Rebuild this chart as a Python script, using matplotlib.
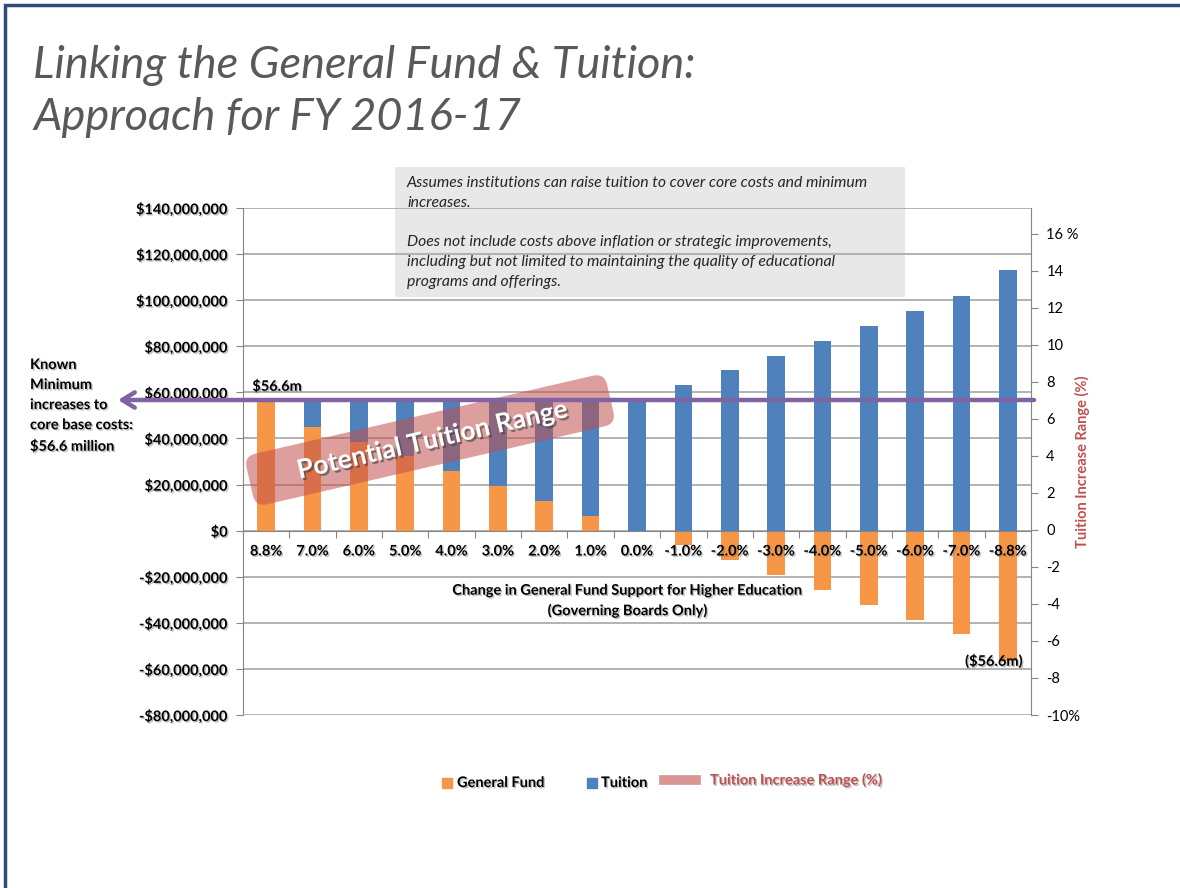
import matplotlib
matplotlib.use('Agg')
import matplotlib.pyplot as plt
import matplotlib.patheffects as pe
from matplotlib.patches import FancyBboxPatch, Rectangle
from matplotlib.lines import Line2D
from matplotlib.transforms import Affine2D
import numpy as np

plt.rcParams['font.family'] = ['Lato', 'DejaVu Sans']

# data (millions of dollars)
categories = ['8.8%', '7.0%', '6.0%', '5.0%', '4.0%', '3.0%', '2.0%', '1.0%', '0.0%',
              '-1.0%', '-2.0%', '-3.0%', '-4.0%', '-5.0%', '-6.0%', '-7.0%', '-8.8%']
general_fund = [56.6, 45.0, 38.6, 32.2, 25.7, 19.3, 12.9, 6.4, 0.0,
                -6.4, -12.9, -19.3, -25.7, -32.2, -38.6, -45.0, -56.6]
tuition = [0.0, 11.6, 18.0, 24.4, 30.9, 37.3, 43.7, 50.2, 56.6,
           63.0, 69.5, 75.9, 82.3, 88.8, 95.2, 101.6, 113.2]
minimum_increase = 56.6
left_ticks = [140, 120, 100, 80, 60, 40, 20, 0, -20, -40, -60, -80]
right_ticks = [16, 14, 12, 10, 8, 6, 4, 2, 0, -2, -4, -6, -8, -10]

ORANGE = '#F79646'
BLUE = '#4F81BD'
PURPLE = '#8064A2'
RED = '#C0504D'
GRID = '#A6A6A6'

W, H = 1180, 888


def fx(x):
    return x / W


def fy(y):
    return 1 - y / H


shadow = [pe.SimplePatchShadow(offset=(1, -1), shadow_rgbFace='#7f7f7f', alpha=0.5), pe.Normal()]

fig = plt.figure(figsize=(11.8, 8.88), dpi=100)

# slide frame (only left and top edges show)
fig.add_artist(Rectangle((fx(5), -0.1), 1.2, fy(5) + 0.1, transform=fig.transFigure,
                         fill=False, edgecolor='#2F4B7C', linewidth=2.5, zorder=-2))

# title
fig.text(fx(33), fy(78), 'Linking the General Fund & Tuition:', fontsize=32.5, style='italic',
         color='#595959', ha='left', va='baseline')
fig.text(fx(33), fy(130), 'Approach for FY 2016-17', fontsize=32.5, style='italic',
         color='#595959', ha='left', va='baseline')

# gray note box (behind gridlines)
fig.add_artist(Rectangle((fx(395), fy(297)), fx(905) - fx(395), fy(167) - fy(297),
                         transform=fig.transFigure, facecolor='#E8E8E8', edgecolor='none', zorder=-1))
note = ('Assumes institutions can raise tuition to cover core costs and minimum\n'
        'increases.\n\n'
        'Does not include costs above inflation or strategic improvements,\n'
        'including but not limited to maintaining the quality of educational\n'
        'programs and offerings.')
fig.text(fx(407), fy(176), note, fontsize=11.3, style='italic', color='#262626',
         ha='left', va='top', linespacing=1.52)

ax = fig.add_axes([fx(243), fy(715), fx(1031) - fx(243), fy(208) - fy(715)])
ax.set_facecolor('none')
x = np.arange(len(categories))
gf = np.array(general_fund)
tu = np.array(tuition)
ax.bar(x, gf, width=0.38, color=ORANGE, zorder=2)
ax.bar(x, tu, width=0.38, bottom=np.clip(gf, 0, None), color=BLUE, zorder=2)

ax.set_xlim(-0.5, len(categories) - 0.5)
ax.set_ylim(-80, 140)
ax.set_yticks(left_ticks)
ax.set_yticklabels([('$' if v >= 0 else '-$') + f'{abs(v) * 1000000:,.0f}' for v in left_ticks],
                   fontweight='bold', fontsize=10.5)
for t in ax.get_yticklabels():
    t.set_path_effects(shadow)
ax.yaxis.grid(True, color=GRID, linewidth=1.2, zorder=0)
ax.set_axisbelow(True)
ax.spines['top'].set_visible(False)
ax.spines['right'].set_visible(False)
ax.spines['left'].set_color('#868686')
ax.spines['bottom'].set_position(('data', 0))
ax.spines['bottom'].set_color('#868686')
ax.set_xticks(x[:-1] + 0.5)
ax.set_xticklabels([])
ax.tick_params(axis='x', length=5, color='#868686')
ax.tick_params(axis='y', length=5, color='#868686', pad=6)

for i, c in enumerate(categories):
    ax.annotate(c, (i, 0), xytext=(0, -15), textcoords='offset points', ha='center',
                va='center', fontsize=10.5, fontweight='bold', path_effects=shadow)

ax.text(7.8, -30.5, 'Change in General Fund Support for Higher Education\n(Governing Boards Only)',
        ha='center', va='center', fontsize=10.5, fontweight='bold', linespacing=1.45,
        path_effects=shadow)

ax.annotate('$56.6m', (0, minimum_increase), xytext=(-10, 10), textcoords='offset points',
            ha='left', va='center', fontsize=10.5, fontweight='bold', path_effects=shadow)
ax.annotate('($56.6m)', (16, general_fund[-1]), xytext=(-10, 0), textcoords='offset points',
            ha='center', va='center', fontsize=10.5, fontweight='bold', path_effects=shadow)

# secondary axis
ax2 = ax.twinx()
ax2.set_ylim(-10, 17.4)
ax2.set_yticks(right_ticks)
ax2.set_yticklabels(['16 %' if v == 16 else ('-10%' if v == -10 else str(v)) for v in right_ticks],
                    fontsize=10.5)
ax2.tick_params(axis='y', length=5, color='#868686', pad=6)
for s in ['top', 'left', 'bottom']:
    ax2.spines[s].set_visible(False)
ax2.spines['right'].set_color('#868686')
ax2.set_ylabel('Tuition Increase Range (%)', color=RED, fontweight='bold', fontsize=10.5,
               labelpad=-4)

# pink "Potential Tuition Range" band
cx, cy = 430, 440
bw, bh = 370, 52
tr = (Affine2D().rotate_deg_around(cx, H - cy, 13) +
      Affine2D().scale(1 / W, 1 / H) + fig.transFigure)
band = FancyBboxPatch((cx - bw / 2, H - cy - bh / 2), bw, bh,
                      boxstyle='round,pad=0,rounding_size=12', transform=tr,
                      facecolor=RED, edgecolor='none', alpha=0.55, zorder=5)
ax2.add_patch(band)
band.set_transform(tr)
band.set_clip_on(False)
ax2.text(fx(cx + 2), fy(cy), 'Potential Tuition Range', transform=fig.transFigure, rotation=13,
         rotation_mode='anchor', ha='center', va='center', color='white', fontsize=19,
         fontweight='bold', zorder=6,
         path_effects=[pe.SimplePatchShadow(offset=(1.5, -1.5), shadow_rgbFace='#404040', alpha=0.6),
                       pe.Normal()])

# purple arrow for the known minimum increase
ax2.annotate('', xy=(fx(118), fy(400)), xycoords=fig.transFigure,
             xytext=(fx(1034), fy(400)), textcoords=fig.transFigure,
             arrowprops=dict(arrowstyle='->,head_length=0.9,head_width=0.55', lw=3.2,
                             color=PURPLE, shrinkA=0, shrinkB=0),
             zorder=7, annotation_clip=False)

fig.text(fx(30), fy(358), 'Known\nMinimum\nincreases to\ncore base costs:\n$56.6 million',
         ha='left', va='top', fontsize=10.5, fontweight='bold', linespacing=1.55,
         path_effects=shadow)

# legend (manually placed entries)
fig.add_artist(Line2D([fx(447)], [fy(783)], marker='s', linestyle='none', markersize=7.5,
                      color=ORANGE, transform=fig.transFigure))
fig.text(fx(457), fy(783), 'General Fund', ha='left', va='center', fontsize=10.5,
         fontweight='bold', path_effects=shadow)
fig.add_artist(Line2D([fx(592)], [fy(783)], marker='s', linestyle='none', markersize=7.5,
                      color=BLUE, transform=fig.transFigure))
fig.text(fx(601), fy(783), 'Tuition', ha='left', va='center', fontsize=10.5,
         fontweight='bold', path_effects=shadow)
fig.add_artist(Line2D([fx(664), fx(696)], [fy(780), fy(780)], linewidth=7, color='#D99594',
                      transform=fig.transFigure))
fig.text(fx(710), fy(780), 'Tuition Increase Range (%)', ha='left', va='center', fontsize=10.5,
         fontweight='bold', color=RED, path_effects=shadow)

fig.savefig('out.png', dpi=100)
